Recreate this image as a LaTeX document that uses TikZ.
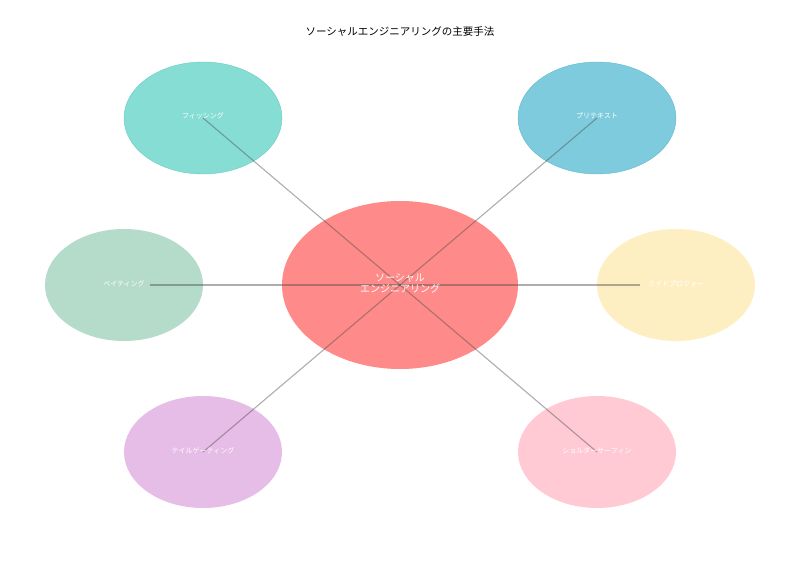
\documentclass[tikz,border=0pt]{standalone}
\usepackage{fontspec}
\setmainfont{Noto Sans CJK JP}
\begin{document}
\begin{tikzpicture}[x=1pt,y=-1pt,
  sat/.style={ellipse,minimum width=158pt,minimum height=112pt,draw opacity=0.6,line width=0.6pt},
  lab/.style={text=white,font=\fontsize{7}{8}\selectfont},
  conn/.style={draw=black!70,opacity=0.45,line width=1.1pt}]
\useasboundingbox (0,0) rectangle (800,570);
\fill[white] (0,0) rectangle (800,570);
\node[font=\fontsize{10.5}{12}\selectfont] (title) at (400,32) {ソーシャルエンジニアリングの主要手法};
\path[fill={rgb,255:red,255;green,138;blue,138}] (400,285) ellipse (118 and 84);
\coordinate (c) at (400,285);
\path[fill={rgb,255:red,134;green,221;blue,211},draw={rgb,255:red,100;green,205;blue,195}] (203,118) ellipse (79 and 56);
\path[fill={rgb,255:red,126;green,203;blue,221},draw={rgb,255:red,95;green,185;blue,205}] (597,118) ellipse (79 and 56);
\path[fill={rgb,255:red,181;green,220;blue,203}] (124,285) ellipse (79 and 56);
\path[fill={rgb,255:red,254;green,239;blue,195}] (676,285) ellipse (79 and 56);
\path[fill={rgb,255:red,230;green,189;blue,230}] (203,452) ellipse (79 and 56);
\path[fill={rgb,255:red,255;green,202;blue,211}] (597,452) ellipse (79 and 56);
\coordinate (p1) at (203,118);
\coordinate (p2) at (597,118);
\coordinate (p3) at (150,285);
\coordinate (p4) at (640,285);
\coordinate (p5) at (203,452);
\coordinate (p6) at (597,452);
\foreach \p in {p1,p2,p3,p4,p5,p6} \draw[conn] (c) -- (\p);
\node[text=white,align=center,font=\fontsize{10}{11}\selectfont] (ctr) at (400,284) {ソーシャル\\エンジニアリング};
\node[lab] (n1) at (203,116) {フィッシング};
\node[lab] (n2) at (597,116) {プリテキスト};
\node[lab] (n3) at (124,284) {ベイティング};
\node[lab] (n4) at (676,284) {クイドプロクォー};
\node[lab] (n5) at (203,451) {テイルゲーティング};
\node[lab] (n6) at (597,451) {ショルダーサーフィン};
\end{tikzpicture}
\end{document}
